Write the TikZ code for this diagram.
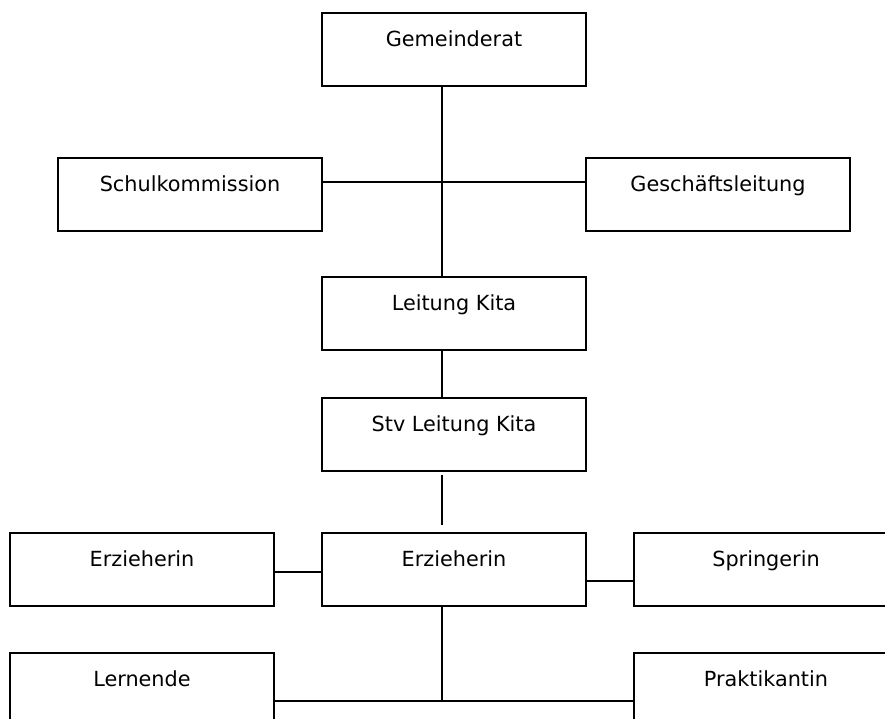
\documentclass[tikz,border=0pt]{standalone}
\usepackage{fontspec}
\setmainfont{DejaVu Sans}
\usetikzlibrary{positioning}

\begin{document}
\begin{tikzpicture}[x=1pt,y=-1pt,thick,
  orgbox/.style={draw,rectangle,line width=2pt,minimum width=264pt,inner sep=0pt,
    text height=33pt,text depth=40pt,font=\fontsize{20.8}{24}\selectfont},
  link/.style={line width=1.5pt}]

  \useasboundingbox (0,0) rectangle (885,718);
  \clip (0,0) rectangle (885,718);

  % top level
  \node[orgbox] (gemeinderat) at (454,49.5) {Gemeinderat};
  \node[orgbox] (schulkommission) at (190,194.5) {Schulkommission};
  \node[orgbox] (geschaeftsleitung) at (718,194.5) {Geschäftsleitung};

  % leitung
  \node[orgbox] (leitung) at (454,313.5) {Leitung Kita};
  \node[orgbox] (stv) at (454,434.5) {Stv Leitung Kita};

  % team
  \node[orgbox] (erzM) at (454,569.5) {Erzieherin};
  \node[orgbox] (erzL) at (142,569.5) {Erzieherin};
  \node[orgbox] (springerin) at (766,569.5) {Springerin};
  \node[orgbox] (lernende) at (142,689.5) {Lernende};
  \node[orgbox] (praktikantin) at (766,689.5) {Praktikantin};

  \coordinate (spine) at (442,0);
  \coordinate (mid) at (442,182);
  \coordinate (gapTop) at (442,475);
  \coordinate (gapBot) at (442,525);
  \coordinate (foot) at (442,701);

  \draw[link] (gemeinderat.south -| spine) -- (leitung.north -| spine);
  \draw[link] (schulkommission.east |- mid) -- (geschaeftsleitung.west |- mid);
  \draw[link] (leitung.south -| spine) -- (stv.north -| spine);
  \draw[link] (gapTop) -- (gapBot);
  \draw[link] (erzL.east |- 0,572) -- (erzM.west |- 0,572);
  \draw[link] (erzM.east |- 0,581) -- (springerin.west |- 0,581);
  \draw[link] (erzM.south -| spine) -- (foot);
  \draw[link] (lernende.east |- foot) -- (praktikantin.west |- foot);
\end{tikzpicture}
\end{document}
